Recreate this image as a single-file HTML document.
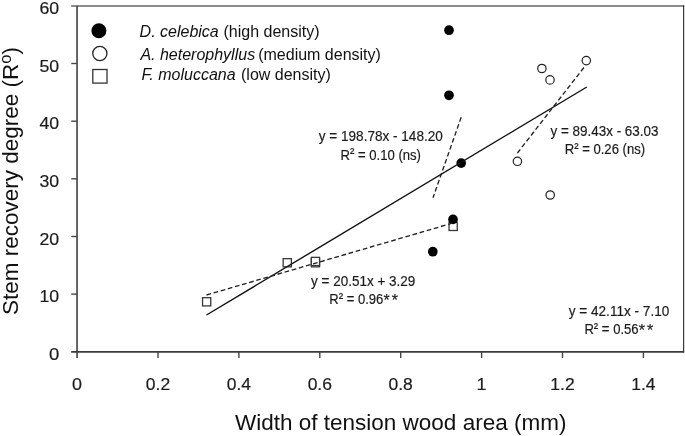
<!DOCTYPE html>
<html>
<head>
<meta charset="utf-8">
<title>Stem recovery degree vs width of tension wood area</title>
<style>
html,body{margin:0;padding:0;background:#fff;}
body{width:685px;height:436px;overflow:hidden;}
svg{display:block;}
text{font-family:"Liberation Sans",sans-serif;fill:#1a1a1a;}
.tk{font-size:16.4px;fill:#222;stroke:#222;stroke-width:0.18px;}
.ty{font-size:16.9px;fill:#222;stroke:#222;stroke-width:0.18px;}
.eq{font-size:14px;fill:#222;stroke:#222;stroke-width:0.18px;}
.lg{font-size:16px;fill:#111;}
.ax{font-size:22.5px;fill:#111;}
.it{font-style:italic;}
</style>
</head>
<body>
<svg width="685" height="436" viewBox="0 0 685 436">
<rect x="0" y="0" width="685" height="436" fill="#ffffff"/>

<!-- plot frame -->
<line x1="71.2" y1="6" x2="684.2" y2="6" stroke="#666666" stroke-width="1.7"/>
<line x1="683.6" y1="5.2" x2="683.6" y2="352.6" stroke="#3a3a3a" stroke-width="1.2"/>
<line x1="77.05" y1="6" x2="77.05" y2="358" stroke="#404040" stroke-width="1.6"/>
<line x1="71.2" y1="351.8" x2="684.2" y2="351.8" stroke="#3a3a3a" stroke-width="1.7"/>

<!-- y ticks -->
<g stroke="#454545" stroke-width="1.4">
<line x1="71.3" y1="63.5" x2="77" y2="63.5"/>
<line x1="71.3" y1="121.2" x2="77" y2="121.2"/>
<line x1="71.3" y1="178.8" x2="77" y2="178.8"/>
<line x1="71.3" y1="236.5" x2="77" y2="236.5"/>
<line x1="71.3" y1="294.1" x2="77" y2="294.1"/>
<!-- x ticks -->
<line x1="158" y1="351.8" x2="158" y2="358"/>
<line x1="238.9" y1="351.8" x2="238.9" y2="358"/>
<line x1="319.8" y1="351.8" x2="319.8" y2="358"/>
<line x1="400.7" y1="351.8" x2="400.7" y2="358"/>
<line x1="481.6" y1="351.8" x2="481.6" y2="358"/>
<line x1="562.5" y1="351.8" x2="562.5" y2="358"/>
<line x1="643.4" y1="351.8" x2="643.4" y2="358"/>
</g>

<!-- y tick labels -->
<g class="ty" text-anchor="end">
<text x="59.2" y="13.9" textLength="19.7" lengthAdjust="spacingAndGlyphs">60</text>
<text x="59.2" y="71.5" textLength="19.7" lengthAdjust="spacingAndGlyphs">50</text>
<text x="59.2" y="129.2" textLength="19.7" lengthAdjust="spacingAndGlyphs">40</text>
<text x="59.2" y="186.8" textLength="19.7" lengthAdjust="spacingAndGlyphs">30</text>
<text x="59.2" y="244.5" textLength="19.7" lengthAdjust="spacingAndGlyphs">20</text>
<text x="59.2" y="302.1" textLength="19.7" lengthAdjust="spacingAndGlyphs">10</text>
<text x="59.2" y="359.8" textLength="10.3" lengthAdjust="spacingAndGlyphs">0</text>
</g>

<!-- x tick labels -->
<g class="tk" text-anchor="middle">
<text x="77.1" y="390.1" textLength="10" lengthAdjust="spacingAndGlyphs">0</text>
<text x="158" y="390.1" textLength="24.3" lengthAdjust="spacingAndGlyphs">0.2</text>
<text x="238.9" y="390.1" textLength="24.3" lengthAdjust="spacingAndGlyphs">0.4</text>
<text x="319.8" y="390.1" textLength="24.3" lengthAdjust="spacingAndGlyphs">0.6</text>
<text x="400.7" y="390.1" textLength="24.3" lengthAdjust="spacingAndGlyphs">0.8</text>
<text x="481.6" y="390.1" textLength="10" lengthAdjust="spacingAndGlyphs">1</text>
<text x="562.5" y="390.1" textLength="24.3" lengthAdjust="spacingAndGlyphs">1.2</text>
<text x="643.4" y="390.1" textLength="24.3" lengthAdjust="spacingAndGlyphs">1.4</text>
</g>

<!-- axis titles -->
<text class="ax" x="235" y="429.9">Width of tension wood area (mm)</text>
<text class="ax" transform="translate(18.4,315) rotate(-90)">Stem recovery degree (R<tspan font-size="16.5" dy="-7.8">o</tspan><tspan dy="7.8">)</tspan></text>

<!-- legend -->
<circle cx="98.9" cy="30.7" r="7.5" fill="#000"/>
<circle cx="99.85" cy="53.5" r="7.1" fill="#fff" stroke="#222" stroke-width="1.3"/>
<rect x="92.8" y="69.5" width="14.2" height="13.6" fill="#fff" stroke="#333" stroke-width="1.3"/>
<text class="lg it" x="139.6" y="36.5">D. celebica</text>
<text class="lg" x="223.5" y="36.5">(high density)</text>
<text class="lg it" x="140.4" y="59.7">A. heterophyllus</text>
<text class="lg" x="258.2" y="59.7">(medium density)</text>
<text class="lg it" x="141.6" y="79.9">F. moluccana</text>
<text class="lg" x="241" y="79.9">(low density)</text>

<!-- markers: F. moluccana (open squares) -->
<g fill="#fff" stroke="#383838" stroke-width="1.3">
<rect x="202.55" y="297.70" width="8.2" height="8.2"/>
<rect x="283.15" y="258.65" width="8.2" height="8.2"/>
<rect x="311.35" y="258.65" width="8.2" height="8.2"/>
<rect x="311.35" y="257.35" width="8.2" height="8.2"/>
<rect x="449.05" y="222.30" width="8.2" height="8.2"/>
</g>

<!-- markers: A. heterophyllus (open circles) -->
<g fill="#fff" stroke="#222" stroke-width="1.2">
<circle cx="541.9" cy="68.5" r="4.2"/>
<circle cx="550" cy="79.9" r="4.2"/>
<circle cx="586.3" cy="60.6" r="4.2"/>
<circle cx="517.4" cy="161.3" r="4.2"/>
<circle cx="550.2" cy="195" r="4.2"/>
</g>

<!-- markers: D. celebica (filled circles) -->
<g fill="#000">
<circle cx="449" cy="30.2" r="4.85"/>
<circle cx="449" cy="95.3" r="4.85"/>
<circle cx="461.2" cy="163.1" r="4.85"/>
<circle cx="453.0" cy="219.4" r="4.85"/>
<circle cx="432.8" cy="251.7" r="4.85"/>
</g>

<!-- regression lines -->
<line x1="206.5" y1="315" x2="586.8" y2="87" stroke="#111" stroke-width="1.4"/>
<g stroke="#222" stroke-width="1.35" stroke-dasharray="4.7 2.7" fill="none">
<line x1="206.5" y1="295" x2="453.3" y2="222.9"/>
<line x1="461.2" y1="117.2" x2="433" y2="197.8"/>
<line x1="517.4" y1="153" x2="585.4" y2="65.6"/>
</g>

<!-- equations -->
<g class="eq" text-anchor="middle">
<text x="380.8" y="141.2" textLength="124" lengthAdjust="spacingAndGlyphs">y = 198.78x - 148.20</text>
<text x="380.7" y="159.6" textLength="80.5" lengthAdjust="spacingAndGlyphs">R<tspan dy="-1.4">²</tspan><tspan dy="1.4"> = 0.10 (ns)</tspan></text>
<text x="604.5" y="135.7" textLength="108" lengthAdjust="spacingAndGlyphs">y = 89.43x - 63.03</text>
<text x="604.9" y="154" textLength="80.5" lengthAdjust="spacingAndGlyphs">R<tspan dy="-1.4">²</tspan><tspan dy="1.4"> = 0.26 (ns)</tspan></text>
<text x="363.2" y="286" textLength="104.3" lengthAdjust="spacingAndGlyphs">y = 20.51x + 3.29</text>
<text x="329.2" y="304" text-anchor="start" textLength="54.2" lengthAdjust="spacingAndGlyphs">R<tspan dy="-1.4">²</tspan><tspan dy="1.4"> = 0.96</tspan></text>
<text x="383.5" y="305.5" text-anchor="start" style="font-size:16px;letter-spacing:2px">**</text>
<text x="619" y="316.2" textLength="100.5" lengthAdjust="spacingAndGlyphs">y = 42.11x - 7.10</text>
<text x="584.4" y="334.2" text-anchor="start" textLength="54.2" lengthAdjust="spacingAndGlyphs">R<tspan dy="-1.4">²</tspan><tspan dy="1.4"> = 0.56</tspan></text>
<text x="638.7" y="335.7" text-anchor="start" style="font-size:16px;letter-spacing:2px">**</text>
</g>
</svg>
</body>
</html>
